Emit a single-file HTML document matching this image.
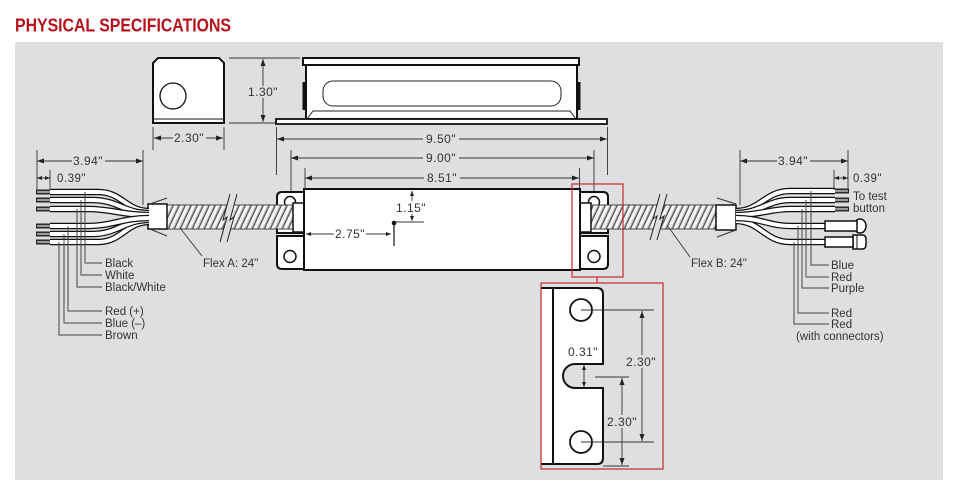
<!DOCTYPE html>
<html><head><meta charset="utf-8">
<style>
html,body{margin:0;padding:0;background:#fff;}
svg{display:block;}
text{font-family:"Liberation Sans",sans-serif;}
.d{font-size:12px;fill:#333;text-anchor:middle;letter-spacing:0.5px;}
.l{font-size:11.5px;fill:#333;}
.dl{stroke:#333;stroke-width:0.9;fill:none;}
.ld{stroke:#444;stroke-width:1;fill:none;}
.o{stroke:#111;stroke-width:2;fill:#fff;}
</style></head><body>
<svg width="960" height="500" viewBox="0 0 960 500" xmlns="http://www.w3.org/2000/svg">
<defs>
<marker id="ar" markerWidth="7" markerHeight="5" refX="7" refY="2.5" orient="auto-start-reverse" markerUnits="userSpaceOnUse"><path d="M0,0 L7,2.5 L0,5z" fill="#222"/></marker>
<marker id="as" markerWidth="5" markerHeight="4" refX="5" refY="2" orient="auto-start-reverse" markerUnits="userSpaceOnUse"><path d="M0,0 L5,2 L0,4z" fill="#222"/></marker>
<pattern id="sp" width="6" height="40" patternUnits="userSpaceOnUse" patternTransform="skewX(-25)">
<rect width="6" height="40" fill="#f7f7f7"/>
<rect x="3.2" width="1" height="40" fill="#bbb"/>
<rect x="4.4" width="1.3" height="40" fill="#444"/>
</pattern>
</defs>

<text x="15" y="31.5" font-size="18.7" font-weight="bold" fill="#b5121b" textLength="216" lengthAdjust="spacingAndGlyphs">PHYSICAL SPECIFICATIONS</text>
<rect x="15" y="42" width="928" height="438" fill="#dedfe1"/>

<!-- End view -->
<path d="M158,58 H219 L224,63 V123 H153 V63 Z" class="o"/>
<line x1="154" y1="119" x2="223" y2="119" stroke="#111" stroke-width="1"/>
<circle cx="173" cy="96" r="13" fill="#fff" stroke="#111" stroke-width="1.3"/>
<line x1="229" y1="58" x2="300" y2="58" class="dl"/>
<line x1="229" y1="123" x2="275" y2="123" class="dl"/>
<line x1="263" y1="59" x2="263" y2="122" class="dl" marker-start="url(#ar)" marker-end="url(#ar)"/>
<rect x="248" y="86" width="30" height="12" fill="#dedfe1"/>
<text x="263" y="96" class="d">1.30"</text>
<line x1="153" y1="127" x2="153" y2="150" class="dl"/>
<line x1="224" y1="127" x2="224" y2="150" class="dl"/>
<line x1="154" y1="138" x2="223" y2="138" class="dl" marker-start="url(#ar)" marker-end="url(#ar)"/>
<rect x="173" y="132" width="33" height="12" fill="#dedfe1"/>
<text x="189" y="142" class="d">2.30"</text>

<!-- Side view -->
<rect x="303" y="58" width="276" height="7" class="o"/>
<rect x="306" y="65" width="271" height="54" class="o"/>
<rect x="276" y="119" width="331" height="5" fill="#fff" stroke="#111" stroke-width="1.8"/>
<rect x="323" y="81" width="238" height="25" rx="10" fill="#fff" stroke="#222" stroke-width="1"/>
<path d="M307,119 L313,111 H570 L576,119" fill="none" stroke="#222" stroke-width="1"/>
<rect x="302.5" y="82" width="3" height="28" fill="#111"/>
<rect x="577.5" y="82" width="3" height="28" fill="#111"/>

<!-- 9.50 / 9.00 / 8.51 -->
<line x1="276.5" y1="127" x2="276.5" y2="175" class="dl"/>
<line x1="607.5" y1="127" x2="607.5" y2="175" class="dl"/>
<line x1="277" y1="139" x2="607" y2="139" class="dl" marker-start="url(#ar)" marker-end="url(#ar)"/>
<rect x="423" y="133" width="36" height="12" fill="#dedfe1"/>
<text x="441" y="143" class="d">9.50"</text>
<line x1="291" y1="150" x2="291" y2="196" class="dl"/>
<line x1="594" y1="150" x2="594" y2="196" class="dl"/>
<line x1="291" y1="158" x2="594" y2="158" class="dl" marker-start="url(#ar)" marker-end="url(#ar)"/>
<rect x="423" y="152" width="36" height="12" fill="#dedfe1"/>
<text x="441" y="162" class="d">9.00"</text>
<line x1="305" y1="168" x2="305" y2="189" class="dl"/>
<line x1="579.5" y1="168" x2="579.5" y2="189" class="dl"/>
<line x1="305" y1="178" x2="579" y2="178" class="dl" marker-start="url(#ar)" marker-end="url(#ar)"/>
<rect x="424" y="172" width="36" height="12" fill="#dedfe1"/>
<text x="442" y="182" class="d">8.51"</text>

<!-- Brackets -->
<path d="M277,197 Q277,192 282,192 H305 V233 H277 Z" class="o"/>
<path d="M277,236 H305 V269 H282 Q277,269 277,264 Z" class="o"/>
<path d="M579,192 H603 Q608,192 608,197 V233 H579 Z" class="o"/>
<path d="M579,236 H608 V264 Q608,269 603,269 H579 Z" class="o"/>
<circle cx="290" cy="202" r="5.5" fill="#fff" stroke="#111" stroke-width="1.5"/>
<circle cx="290" cy="256.5" r="6" fill="#fff" stroke="#111" stroke-width="1.5"/>
<circle cx="594" cy="202" r="5.5" fill="#fff" stroke="#111" stroke-width="1.5"/>
<circle cx="594" cy="256.5" r="6" fill="#fff" stroke="#111" stroke-width="1.5"/>

<!-- Conduits -->
<rect x="166" y="205" width="128" height="24" fill="url(#sp)" stroke="#444" stroke-width="1"/>
<polygon points="220,242 227,217 223,220 230,194 237,194 230,220 234,217 227,242" fill="#dedfe1"/>
<polyline points="220,242 227,217 223,220 230,194" fill="none" stroke="#222" stroke-width="1"/>
<polyline points="227,242 234,217 230,220 237,194" fill="none" stroke="#222" stroke-width="1"/>
<rect x="591" y="205" width="126" height="24" fill="url(#sp)" stroke="#444" stroke-width="1"/>
<polygon points="650,240 657,216 653,219 660,194 667,194 660,219 664,216 657,240" fill="#dedfe1"/>
<polyline points="650,240 657,216 653,219 660,194" fill="none" stroke="#222" stroke-width="1"/>
<polyline points="657,240 664,216 660,219 667,194" fill="none" stroke="#222" stroke-width="1"/>

<!-- sleeves -->
<rect x="293" y="203" width="12" height="29" fill="#fff" stroke="#111" stroke-width="1.5"/>
<rect x="579" y="203" width="12" height="29" fill="#fff" stroke="#111" stroke-width="1.5"/>

<!-- Body -->
<rect x="304" y="189" width="276" height="81" class="o"/>

<!-- 1.15 / 2.75 -->
<line x1="412" y1="191" x2="412" y2="221" class="dl" marker-start="url(#as)" marker-end="url(#as)"/>
<line x1="394" y1="222" x2="424" y2="222" class="dl"/>
<rect x="396" y="201" width="31" height="13" fill="#fff"/>
<text x="411" y="212" class="d">1.15"</text>
<circle cx="394" cy="223" r="2.3" fill="#111"/>
<line x1="394" y1="223" x2="394" y2="246" stroke="#111" stroke-width="1.2"/>
<line x1="306" y1="234" x2="391" y2="234" class="dl" marker-start="url(#as)" marker-end="url(#as)"/>
<rect x="334" y="228" width="32" height="12" fill="#fff"/>
<text x="350" y="238" class="d">2.75"</text>

<!-- Ferrules -->
<rect x="148" y="204" width="19" height="25" fill="#fff" stroke="#111" stroke-width="1.5"/>
<line x1="150" y1="204" x2="167" y2="198" stroke="#333" stroke-width="1"/>
<line x1="150" y1="229" x2="167" y2="236" stroke="#333" stroke-width="1"/>
<rect x="716" y="205" width="20" height="25" fill="#fff" stroke="#111" stroke-width="1.5"/>
<line x1="717" y1="198" x2="736" y2="204" stroke="#333" stroke-width="1"/>
<line x1="717" y1="237" x2="736" y2="230" stroke="#333" stroke-width="1"/>

<!-- Left wires -->
<g fill="none">
<g stroke="#222" stroke-width="5"><line x1="36" y1="192" x2="53" y2="192"/><line x1="36" y1="200" x2="53" y2="200"/><line x1="36" y1="209" x2="53" y2="209"/><line x1="36" y1="226" x2="53" y2="226"/><line x1="36" y1="234" x2="53" y2="234"/><line x1="36" y1="242" x2="53" y2="242"/></g>
<g stroke="#9a9a9a" stroke-width="2.2"><line x1="37" y1="192" x2="52" y2="192"/><line x1="37" y1="200" x2="52" y2="200"/><line x1="37" y1="209" x2="52" y2="209"/><line x1="37" y1="226" x2="52" y2="226"/><line x1="37" y1="234" x2="52" y2="234"/><line x1="37" y1="242" x2="52" y2="242"/></g>
<path d="M50,192 H98 C122,192 126,211 149,211" stroke="#111" stroke-width="6.5"/><path d="M50,192 H98 C122,192 126,211 149,211" stroke="#fff" stroke-width="4"/>
<path d="M50,200 H92 C118,200 124,213 149,213" stroke="#111" stroke-width="6.5"/><path d="M50,200 H92 C118,200 124,213 149,213" stroke="#fff" stroke-width="4"/>
<path d="M50,209 H88 C112,209 122,215 149,215" stroke="#111" stroke-width="6.5"/><path d="M50,209 H88 C112,209 122,215 149,215" stroke="#fff" stroke-width="4"/>
<path d="M50,242 H98 C122,242 126,222 149,222" stroke="#111" stroke-width="6.5"/><path d="M50,242 H98 C122,242 126,222 149,222" stroke="#fff" stroke-width="4"/>
<path d="M50,234 H92 C118,234 124,220 149,220" stroke="#111" stroke-width="6.5"/><path d="M50,234 H92 C118,234 124,220 149,220" stroke="#fff" stroke-width="4"/>
<path d="M50,226 H88 C112,226 122,218 149,218" stroke="#111" stroke-width="6.5"/><path d="M50,226 H88 C112,226 122,218 149,218" stroke="#fff" stroke-width="4"/>
</g>

<!-- Right wires -->
<g fill="none">
<g stroke="#222" stroke-width="5"><line x1="832" y1="191" x2="849" y2="191"/><line x1="832" y1="200" x2="849" y2="200"/><line x1="832" y1="209" x2="849" y2="209"/></g>
<g stroke="#9a9a9a" stroke-width="2.2"><line x1="833" y1="191" x2="848" y2="191"/><line x1="833" y1="200" x2="848" y2="200"/><line x1="833" y1="209" x2="848" y2="209"/></g>
<path d="M736,211 C760,211 765,191 790,191 H835" stroke="#111" stroke-width="6.5"/><path d="M736,211 C760,211 765,191 790,191 H835" stroke="#fff" stroke-width="4"/>
<path d="M736,213 C760,213 768,200 790,200 H835" stroke="#111" stroke-width="6.5"/><path d="M736,213 C760,213 768,200 790,200 H835" stroke="#fff" stroke-width="4"/>
<path d="M736,215 C760,215 770,209 790,209 H835" stroke="#111" stroke-width="6.5"/><path d="M736,215 C760,215 770,209 790,209 H835" stroke="#fff" stroke-width="4"/>
<path d="M736,221 C760,221 765,242 790,242 H827" stroke="#111" stroke-width="6.5"/><path d="M736,221 C760,221 765,242 790,242 H827" stroke="#fff" stroke-width="4"/>
<path d="M736,218 C760,218 770,226 790,226 H827" stroke="#111" stroke-width="6.5"/><path d="M736,218 C760,218 770,226 790,226 H827" stroke="#fff" stroke-width="4"/>
</g>
<!-- connectors -->
<ellipse cx="860" cy="226" rx="6" ry="7" fill="#fff" stroke="#111" stroke-width="1.5"/>
<rect x="825" y="221" width="32" height="10" fill="#fff" stroke="#111" stroke-width="1.5"/>
<path d="M853,235 H862 Q866,235 866,239 V245 Q866,249 862,249 H853 Z" fill="#fff" stroke="#111" stroke-width="1.5"/>
<line x1="857" y1="235" x2="857" y2="249" stroke="#111" stroke-width="1"/>
<rect x="825" y="237" width="28" height="10" fill="#fff" stroke="#111" stroke-width="1.5"/>

<!-- Left leaders -->
<polyline points="85,192 85,263 102,263" class="ld"/>
<polyline points="81,200 81,275 102,275" class="ld"/>
<polyline points="77,209 77,287 102,287" class="ld"/>
<polyline points="68,226 68,311 102,311" class="ld"/>
<polyline points="64,234 64,323 102,323" class="ld"/>
<polyline points="59,242 59,335 102,335" class="ld"/>
<text x="105" y="267" class="l">Black</text>
<text x="105" y="279" class="l">White</text>
<text x="105" y="291" class="l">Black/White</text>
<text x="105" y="315" class="l">Red (+)</text>
<text x="105" y="327" class="l">Blue (–)</text>
<text x="105" y="339" class="l">Brown</text>

<!-- Right leaders -->
<polyline points="811,191 811,265 829,265" class="ld"/>
<polyline points="806,200 806,277 829,277" class="ld"/>
<polyline points="802,209 802,288 829,288" class="ld"/>
<polyline points="798,226 798,313 829,313" class="ld"/>
<polyline points="794,242 794,324 829,324" class="ld"/>
<text x="831" y="269" class="l">Blue</text>
<text x="831" y="281" class="l">Red</text>
<text x="831" y="292" class="l">Purple</text>
<text x="831" y="317" class="l">Red</text>
<text x="831" y="328" class="l">Red</text>
<text x="796" y="340" class="l">(with connectors)</text>

<!-- Flex labels -->
<line x1="202" y1="256" x2="180" y2="228" class="ld"/>
<text x="203" y="267" class="l">Flex A: 24"</text>
<line x1="690" y1="257" x2="667" y2="225" class="ld"/>
<text x="691" y="267" class="l">Flex B: 24"</text>

<!-- Left dims -->
<line x1="37" y1="150" x2="37" y2="190" class="dl"/>
<line x1="143" y1="150" x2="143" y2="205" class="dl"/>
<line x1="37" y1="161" x2="143" y2="161" class="dl" marker-start="url(#ar)" marker-end="url(#ar)"/>
<rect x="72" y="155" width="33" height="12" fill="#dedfe1"/>
<text x="88" y="165" class="d">3.94"</text>
<line x1="50" y1="170" x2="50" y2="190" class="dl"/>
<line x1="37" y1="178" x2="50" y2="178" class="dl" marker-start="url(#as)" marker-end="url(#as)"/>
<text x="57" y="182" class="l" letter-spacing="0.5">0.39"</text>

<!-- Right dims -->
<line x1="740" y1="150" x2="740" y2="205" class="dl"/>
<line x1="848" y1="150" x2="848" y2="190" class="dl"/>
<line x1="740" y1="161" x2="848" y2="161" class="dl" marker-start="url(#ar)" marker-end="url(#ar)"/>
<rect x="777" y="155" width="33" height="12" fill="#dedfe1"/>
<text x="793" y="165" class="d">3.94"</text>
<line x1="834" y1="170" x2="834" y2="190" class="dl"/>
<line x1="834" y1="178" x2="848" y2="178" class="dl" marker-start="url(#as)" marker-end="url(#as)"/>
<text x="853" y="182" class="l" letter-spacing="0.5">0.39"</text>
<text x="853" y="200" class="l">To test</text>
<text x="853" y="212" class="l">button</text>

<!-- Red callouts -->
<rect x="572" y="184" width="51" height="93" fill="none" stroke="#c8282e" stroke-width="1.2"/>
<line x1="597" y1="277" x2="597" y2="283" stroke="#c8282e" stroke-width="1.2"/>

<!-- Detail -->
<path d="M541,288 H597 Q603,288 603,294 V364 H575 A12,12 0 0 0 575,388 H603 V458 Q603,464 597,464 H541 Z" fill="#fff"/>
<path d="M541,288 H597 Q603,288 603,294 V364 H575 A12,12 0 0 0 575,388 H603 V458 Q603,464 597,464 H541" fill="none" stroke="#111" stroke-width="2"/>
<line x1="553" y1="288" x2="553" y2="464" stroke="#111" stroke-width="2"/>
<circle cx="581" cy="310" r="11" fill="#fff" stroke="#111" stroke-width="1.8"/>
<circle cx="581" cy="442" r="11" fill="#fff" stroke="#111" stroke-width="1.8"/>
<line x1="581" y1="310" x2="654" y2="310" class="dl"/>
<line x1="581" y1="442" x2="654" y2="442" class="dl"/>
<line x1="642" y1="311" x2="642" y2="441" class="dl" marker-start="url(#ar)" marker-end="url(#ar)"/>
<rect x="625" y="355" width="33" height="13" fill="#dedfe1"/>
<text x="641" y="366" class="d">2.30"</text>
<line x1="595" y1="377" x2="629" y2="377" class="dl"/>
<line x1="603" y1="466" x2="629" y2="466" class="dl"/>
<line x1="622" y1="378" x2="622" y2="465" class="dl" marker-start="url(#ar)" marker-end="url(#ar)"/>
<rect x="606" y="415" width="33" height="13" fill="#dedfe1"/>
<text x="622" y="426" class="d">2.30"</text>
<line x1="584" y1="365" x2="584" y2="387" class="dl" marker-start="url(#as)" marker-end="url(#as)"/>
<text x="583" y="356" class="d">0.31"</text>
<rect x="541" y="283" width="122" height="186" fill="none" stroke="#c8282e" stroke-width="1.2"/>
</svg>
</body></html>
